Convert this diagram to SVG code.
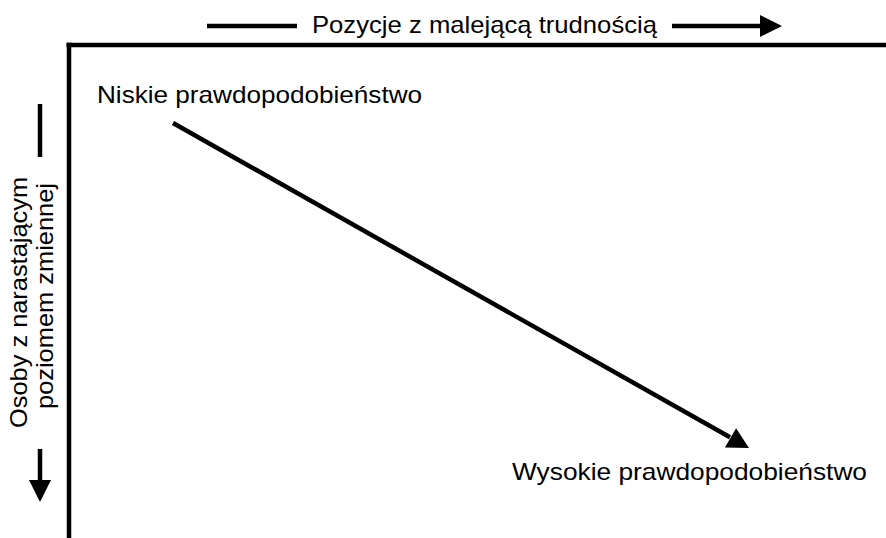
<svg xmlns="http://www.w3.org/2000/svg" width="886" height="538" viewBox="0 0 886 538">
<style>
  .t { font-family: "Liberation Sans", Arial, sans-serif; font-size: 24px; fill: #000; }
  .ln { stroke: #000; stroke-width: 4.5; fill: none; }
  .ar { fill: #000; }
</style>
<rect width="886" height="538" fill="#fff"/>
<g id="axes">
  <line class="ln" x1="66.5" y1="45" x2="886" y2="45"/>
  <line class="ln" x1="69" y1="42.8" x2="69" y2="538"/>
</g>
<g id="top-label">
  <line class="ln" x1="207" y1="26" x2="297" y2="26"/>
  <text class="t" x="312" y="33" textLength="345" lengthAdjust="spacingAndGlyphs">Pozycje z malejącą trudnością</text>
  <line class="ln" x1="672" y1="26" x2="762" y2="26"/>
  <polygon class="ar" points="760,15 782,26 760,37"/>
</g>
<g id="left-label">
  <line class="ln" x1="40" y1="104" x2="40" y2="157"/>
  <text class="t" transform="translate(27,302.5) rotate(-90)" text-anchor="middle" textLength="251" lengthAdjust="spacingAndGlyphs">Osoby z narastającym</text>
  <text class="t" transform="translate(53,296) rotate(-90)" text-anchor="middle" textLength="226" lengthAdjust="spacingAndGlyphs">poziomem zmiennej</text>
  <line class="ln" x1="40" y1="449" x2="40" y2="482"/>
  <polygon class="ar" points="29,480 51,480 40,502"/>
</g>
<g id="node-low">
  <text class="t" x="97" y="103" textLength="325" lengthAdjust="spacingAndGlyphs">Niskie prawdopodobieństwo</text>
</g>
<g id="node-high">
  <text class="t" x="512" y="480" textLength="355" lengthAdjust="spacingAndGlyphs">Wysokie prawdopodobieństwo</text>
</g>
<g id="connectors">
  <line class="ln" x1="173" y1="123" x2="730" y2="437.3"/>
  <polygon class="ar" points="749,448 724.9,447.5 736.1,428.2"/>
</g>
</svg>
